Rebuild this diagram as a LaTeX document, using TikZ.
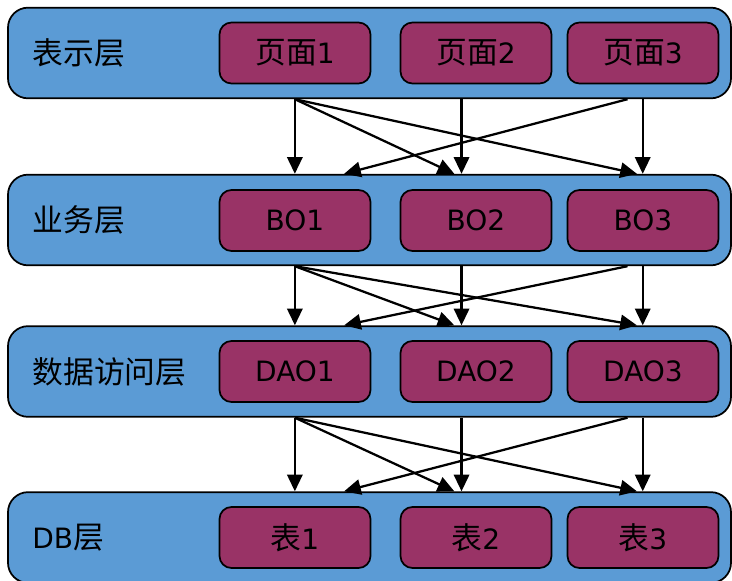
\documentclass[tikz,border=0pt]{standalone}
\usepackage{fontspec}
\setmainfont{DejaVu Sans}
\newfontfamily\cjk[Scale=1.1]{Noto Sans CJK SC}
\usetikzlibrary{calc}
\usetikzlibrary{positioning}
\usetikzlibrary{arrows.meta}

\definecolor{layerblue}{RGB}{91,155,213}
\definecolor{unitred}{RGB}{153,51,102}

\tikzset{
  layer/.style={draw,line width=1.3pt,fill=layerblue,rounded corners=15pt,minimum width=542.25pt,minimum height=68pt,inner sep=0pt},
  unit/.style={draw,line width=1.3pt,fill=unitred,rounded corners=9pt,minimum width=113.25pt,minimum height=45.75pt,inner sep=0pt,font=\fontsize{21}{25}\selectfont},
  tag/.style={anchor=west,inner sep=0pt,font=\fontsize{21}{25}\selectfont},
  flow/.style={line width=1.7pt,-{Triangle[length=12.5pt,width=11.5pt]}}
}

\begin{document}
\begin{tikzpicture}[x=0.75pt,y=-0.75pt]
\useasboundingbox (0,0) rectangle (732,581);

\node[layer] (l1) at (369.5,53) {};
\node[layer] (l2) at (369.5,220) {};
\node[layer] (l3) at (369.5,371.5) {};
\node[layer] (l4) at (369.5,537.5) {};

\node[tag,right=18.75pt of l1.west] (t1) {\cjk 表示层};
\node[tag,right=18.75pt of l2.west] (t2) {\cjk 业务层};
\node[tag,right=18.75pt of l3.west] (t3) {\cjk 数据访问层};
\node[tag,right=18.75pt of l4.west] (t4) {DB{\cjk 层}};

\node[unit] (page1) at (295,53) {{\cjk 页面}1};
\node[unit] (page2) at (476,53) {{\cjk 页面}2};
\node[unit] (page3) at (643,53) {{\cjk 页面}3};

\node[unit] (bo1) at (295,220.5) {BO1};
\node[unit] (bo2) at (476,220.5) {BO2};
\node[unit] (bo3) at (643,220.5) {BO3};

\node[unit] (dao1) at (295,371.5) {DAO1};
\node[unit] (dao2) at (476,371.5) {DAO2};
\node[unit] (dao3) at (643,371.5) {DAO3};

\node[unit] (tab1) at (295,537.5) {{\cjk 表}1};
\node[unit] (tab2) at (476,537.5) {{\cjk 表}2};
\node[unit] (tab3) at (643,537.5) {{\cjk 表}3};

\foreach \a/\b in {l1/l2,l2/l3,l3/l4}{
  \coordinate (s1) at ($(\a.south west)!0.397!(\a.south east)$);
  \coordinate (s2) at ($(\a.south west)!0.627!(\a.south east)$);
  \coordinate (s3) at ($(\a.south west)!0.856!(\a.south east)$);
  \coordinate (s4) at ($(\a.south west)!0.877!(\a.south east)$);
  \coordinate (e1) at ($(\b.north west)!0.397!(\b.north east)$);
  \coordinate (e2) at ($(\b.north west)!0.465!(\b.north east)$);
  \coordinate (e3) at ($(\b.north west)!0.617!(\b.north east)$);
  \coordinate (e4) at ($(\b.north west)!0.627!(\b.north east)$);
  \coordinate (e5) at ($(\b.north west)!0.869!(\b.north east)$);
  \coordinate (e6) at ($(\b.north west)!0.877!(\b.north east)$);
  \draw[flow] (s1) -- (e1);
  \draw[flow] (s1) -- (e3);
  \draw[flow] (s1) -- (e5);
  \draw[flow] (s2) -- (e4);
  \draw[flow] (s3) -- (e2);
  \draw[flow] (s4) -- (e6);
}

\end{tikzpicture}
\end{document}
